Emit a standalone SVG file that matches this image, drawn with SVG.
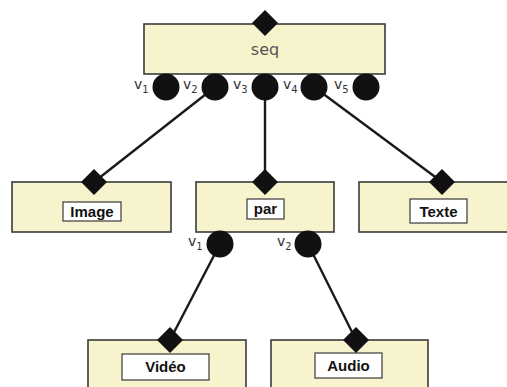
<svg xmlns="http://www.w3.org/2000/svg" width="507" height="387" viewBox="0 0 507 387">
<style>
.box{fill:#f7f3cd;stroke:#3a3a3a;stroke-width:1.6}
.lbl{fill:#ffffff;stroke:#3a3a3a;stroke-width:1.2}
.lt{font-family:"Liberation Sans",Arial,sans-serif;font-weight:bold;font-size:15px;fill:#111;text-anchor:middle}
.port{fill:#111}
.v{font-family:"DejaVu Sans",Verdana,sans-serif;font-size:14px;fill:#333}
.s{font-size:10px}
.edge{stroke:#1a1a1a;stroke-width:2.4;fill:none}
</style>
<defs>
<path id="dia" d="M0,-13 L13,0 L0,13 L-13,0 Z" class="port"/>
</defs>
<g id="connectors">
<line class="edge" x1="215" y1="87" x2="94" y2="182"/>
<line class="edge" x1="265" y1="87" x2="265" y2="182"/>
<line class="edge" x1="314" y1="87" x2="442" y2="182"/>
<line class="edge" x1="220" y1="244" x2="170" y2="340"/>
<line class="edge" x1="308" y1="244" x2="356" y2="340"/>
</g>
<g id="seq">
<rect class="box" x="144" y="24" width="241" height="50"/>
<text x="265" y="55" font-family="DejaVu Sans,Verdana,sans-serif" font-size="16" fill="#555" text-anchor="middle">seq</text>
<use href="#dia" x="265" y="23"/>
<circle class="port" cx="166" cy="87" r="13.500"/>
<circle class="port" cx="215" cy="87" r="13.500"/>
<circle class="port" cx="265" cy="87" r="13.500"/>
<circle class="port" cx="314" cy="87" r="13.500"/>
<circle class="port" cx="366" cy="87" r="13.500"/>
<text class="v" x="134" y="89">v<tspan class="s" dy="4">1</tspan></text>
<text class="v" x="183" y="89">v<tspan class="s" dy="4">2</tspan></text>
<text class="v" x="233" y="89">v<tspan class="s" dy="4">3</tspan></text>
<text class="v" x="283" y="89">v<tspan class="s" dy="4">4</tspan></text>
<text class="v" x="334" y="89">v<tspan class="s" dy="4">5</tspan></text>
</g>
<g id="image">
<rect class="box" x="12" y="182" width="159" height="50"/>
<rect class="lbl" x="63" y="202" width="58" height="19"/>
<text class="lt" x="92" y="217">Image</text>
<use href="#dia" x="94" y="182"/>
</g>
<g id="par">
<rect class="box" x="196" y="182" width="138" height="50"/>
<rect class="lbl" x="247" y="199" width="37" height="20"/>
<text class="lt" x="265.500" y="214">par</text>
<use href="#dia" x="265" y="182"/>
<circle class="port" cx="220" cy="244" r="13.500"/>
<circle class="port" cx="308" cy="244" r="13.500"/>
<text class="v" x="188" y="246">v<tspan class="s" dy="4">1</tspan></text>
<text class="v" x="277" y="246">v<tspan class="s" dy="4">2</tspan></text>
</g>
<g id="texte">
<rect class="box" x="359" y="182" width="150" height="50"/>
<rect class="lbl" x="410" y="199" width="57" height="24"/>
<text class="lt" x="438.500" y="217">Texte</text>
<use href="#dia" x="442" y="182"/>
</g>
<g id="video">
<rect class="box" x="88" y="340" width="158" height="50"/>
<rect class="lbl" x="122" y="354" width="87" height="26"/>
<text class="lt" x="165.500" y="372">Vidéo</text>
<use href="#dia" x="170" y="340"/>
</g>
<g id="audio">
<rect class="box" x="271" y="340" width="157" height="50"/>
<rect class="lbl" x="315" y="353" width="67" height="25"/>
<text class="lt" x="348.500" y="371">Audio</text>
<use href="#dia" x="356" y="340"/>
</g>
</svg>
